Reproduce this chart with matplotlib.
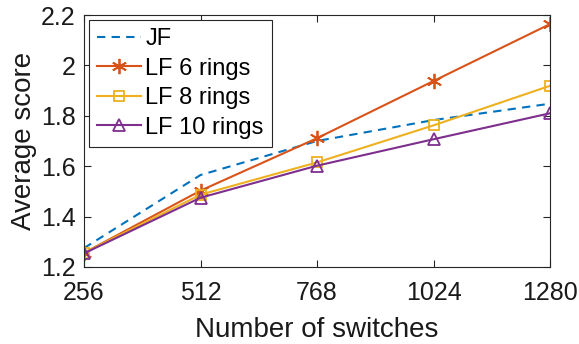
import matplotlib.pyplot as plt
from matplotlib.ticker import FuncFormatter

switches = [256, 512, 768, 1024, 1280]
jf = [1.275, 1.565, 1.700, 1.783, 1.848]
lf6 = [1.256, 1.503, 1.711, 1.938, 2.164]
lf8 = [1.256, 1.487, 1.615, 1.762, 1.919]
lf10 = [1.254, 1.475, 1.602, 1.707, 1.810]

plt.rcParams['font.family'] = ['Liberation Sans', 'DejaVu Sans']
axcol = '#262626'

fig = plt.figure(figsize=(5.79, 3.44), dpi=100)
ax = fig.add_axes([84/579, 1-267/344, 466/579, 252/344])

ax.plot(switches, jf, '--', color='#0072BD', lw=1.5, dashes=(4, 3), label='JF')
ax.plot(switches, lf6, '-', color='#D95319', lw=1.5, marker=(6, 2, 0), ms=11,
        mew=1.3, label='LF 6 rings')
ax.plot(switches, lf8, '-', color='#EDB120', lw=1.5, marker='s', ms=7,
        mfc='none', mew=1.3, label='LF 8 rings')
ax.plot(switches, lf10, '-', color='#7E2F8E', lw=1.5, marker='^', ms=9,
        mfc='none', mew=1.3, label='LF 10 rings')

ax.set_xlim(256, 1280)
ax.set_ylim(1.2, 2.2)
ax.set_xticks(switches)
ax.set_yticks([1.2, 1.4, 1.6, 1.8, 2.0, 2.2])
ax.yaxis.set_major_formatter(FuncFormatter(lambda v, p: f'{v:g}'))
ax.tick_params(direction='in', top=True, right=True, labelsize=18,
               colors=axcol, labelcolor='#1a1a1a', length=5, width=0.8)
ax.tick_params(axis='x', pad=10)
ax.tick_params(axis='y', pad=6)
for s in ax.spines.values():
    s.set_color(axcol)
    s.set_linewidth(0.8)

ax.set_xlabel('Number of switches', fontsize=20, color='#1a1a1a', labelpad=9)
ax.set_ylabel('Average score', fontsize=20, color='#1a1a1a', labelpad=3)

leg = ax.legend(loc='upper left', fontsize=17, fancybox=False, framealpha=1,
                edgecolor='#262626', borderpad=0.35, labelspacing=0.32,
                handlelength=1.85, handletextpad=0.2, borderaxespad=0.2)
leg.get_frame().set_linewidth(0.8)

fig.savefig('out.png', dpi=100)
